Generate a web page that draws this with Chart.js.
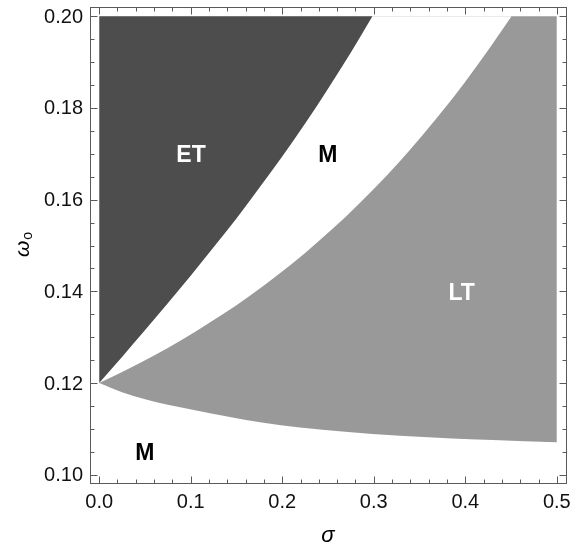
<!DOCTYPE html>
<html><head><meta charset="utf-8">
<script src="https://cdn.jsdelivr.net/npm/chart.js@4/dist/chart.umd.min.js"></script>
<style>html,body{margin:0;padding:0;background:#fff;}#wrap{width:573px;height:553px;}</style>
</head><body><div id="wrap"><canvas id="c" width="573" height="553"></canvas></div>
<script>
// ET / M boundary (sigma, omega_o)
const etSigma = [0, 0.025, 0.050, 0.075, 0.100, 0.125, 0.150, 0.175, 0.200, 0.225, 0.250, 0.275, 0.2986];
const etOmega = [0.1200, 0.1257, 0.1315, 0.1374, 0.1434, 0.1496, 0.1559, 0.1626, 0.1694, 0.1766, 0.1842, 0.1921, 0.2000];
// M / LT upper boundary
const ltUpSigma = [0, 0.030, 0.060, 0.090, 0.120, 0.150, 0.180, 0.210, 0.240, 0.270, 0.300, 0.330, 0.360, 0.390, 0.420, 0.4505];
const ltUpOmega = [0.1200, 0.1229, 0.1260, 0.1294, 0.1331, 0.1370, 0.1413, 0.1459, 0.1510, 0.1564, 0.1623, 0.1687, 0.1757, 0.1831, 0.1912, 0.2000];
// M / LT lower boundary
const ltLowSigma = [0, 0.025, 0.0502, 0.075, 0.1048, 0.140, 0.1776, 0.2194, 0.2686, 0.3286, 0.380, 0.430, 0.500];
const ltLowOmega = [0.1200, 0.1180, 0.1165, 0.1153, 0.1141, 0.1127, 0.1114, 0.1103, 0.1094, 0.1085, 0.1080, 0.1076, 0.1071];
// region upper limit
const omegaMax = 0.2;
// axis ticks
const xMajorTicks = [0, 0.1, 0.2, 0.3, 0.4, 0.5];
const xTickLabels = ['0.0', '0.1', '0.2', '0.3', '0.4', '0.5'];
const xMinorTicks = [0.02,0.04,0.06,0.08,0.12,0.14,0.16,0.18,0.22,0.24,0.26,0.28,0.32,0.34,0.36,0.38,0.42,0.44,0.46,0.48];
const yMajorTicks = [0.10, 0.12, 0.14, 0.16, 0.18, 0.20];
const yTickLabels = ['0.10', '0.12', '0.14', '0.16', '0.18', '0.20'];
const yMinorTicks = [0.105,0.11,0.115,0.125,0.13,0.135,0.145,0.15,0.155,0.165,0.17,0.175,0.185,0.19,0.195];
// region labels
const regionLabels = ['ET', 'M', 'LT', 'M'];
const labelSigma = [0.1004, 0.2498, 0.396, 0.0499];
const labelOmega = [0.1698, 0.1698, 0.1397, 0.1049];
const labelColors = ['#ffffff', '#000000', '#ffffff', '#000000'];

const pts = (xs, ys) => xs.map((v, i) => ({x: v, y: ys[i]}));

const FONT = "'Liberation Sans', Arial, Helvetica, sans-serif";
const frameColor = '#5a5a5a';

const decor = {
  id: 'decor',
  afterDraw(chart) {
    const {ctx, chartArea: a, scales: {x, y}} = chart;
    const L = a.left + 0.5, R = a.right + 0.5, T = a.top + 0.5, B = a.bottom - 0.5;
    ctx.save();
    ctx.strokeStyle = frameColor; ctx.lineWidth = 1;
    ctx.strokeRect(L, T, R - L, B - T);
    ctx.beginPath();
    const xt = (v, len) => { const p = Math.round(x.getPixelForValue(v)) + 0.5; ctx.moveTo(p, B); ctx.lineTo(p, B - len); ctx.moveTo(p, T); ctx.lineTo(p, T + len); };
    const yt = (v, len) => { const p = Math.round(y.getPixelForValue(v)) + 0.5; ctx.moveTo(L, p); ctx.lineTo(L + len, p); ctx.moveTo(R, p); ctx.lineTo(R - len, p); };
    xMajorTicks.forEach(v => xt(v, 7)); xMinorTicks.forEach(v => xt(v, 4));
    yMajorTicks.forEach(v => yt(v, 7)); yMinorTicks.forEach(v => yt(v, 4));
    ctx.stroke();
    // region labels
    ctx.font = 'bold 23px ' + FONT; ctx.textAlign = 'center'; ctx.textBaseline = 'middle';
    regionLabels.forEach((t, i) => { ctx.fillStyle = labelColors[i]; ctx.fillText(t, x.getPixelForValue(labelSigma[i]), y.getPixelForValue(labelOmega[i]) + 1); });
    // axis titles
    ctx.fillStyle = '#000';
    ctx.font = 'italic 22px ' + FONT; ctx.textAlign = 'center'; ctx.textBaseline = 'alphabetic';
    ctx.fillText('σ', (a.left + a.right) / 2, 542);
    ctx.save();
    ctx.translate(28.5, 257); ctx.rotate(-Math.PI / 2);
    ctx.textAlign = 'left';
    ctx.font = 'italic 21px ' + FONT;
    ctx.fillText('ω', 0, 0);
    const w = ctx.measureText('ω').width;
    ctx.font = '14px ' + FONT;
    ctx.fillText('o', w + 1, 3);
    ctx.restore();
    ctx.restore();
  }
};

const curve = (data, color, order) => ({
  data, showLine: true, fill: {value: omegaMax}, cubicInterpolationMode: 'monotone',
  backgroundColor: color, borderColor: 'rgba(0,0,0,0)', borderWidth: 0, pointRadius: 0, order
});

const zeroPad = s => { s.paddingTop = 0; s.paddingBottom = 0; s.paddingLeft = 0; s.paddingRight = 0; };

new Chart(document.getElementById('c'), {
  type: 'scatter',
  data: {
    datasets: [
      Object.assign(curve(pts(ltLowSigma, ltLowOmega), '#999999', 3), {label: 'LT'}),
      Object.assign(curve(pts(ltUpSigma, ltUpOmega), '#ffffff', 2), {label: 'M'}),
      Object.assign(curve(pts(etSigma, etOmega), '#4d4d4d', 1), {label: 'ET'})
    ]
  },
  options: {
    responsive: false, animation: false, devicePixelRatio: 1,
    layout: {padding: {top: 7, right: 7, left: 0, bottom: 0}},
    plugins: {legend: {display: false}, tooltip: {enabled: false}},
    scales: {
      x: {
        type: 'linear', min: -0.01, max: 0.51,
        afterBuildTicks: s => { s.ticks = xMajorTicks.map(v => ({value: v})); },
        afterFit: s => { s.height = 69; zeroPad(s); },
        grid: {display: false, drawTicks: false}, border: {display: false},
        ticks: {autoSkip: false, maxRotation: 0, padding: 6, color: '#111', font: {family: FONT, size: 20},
          callback: (v, i) => xTickLabels[i]}
      },
      y: {
        type: 'linear', min: 0.098, max: 0.202,
        afterBuildTicks: s => { s.ticks = yMajorTicks.map(v => ({value: v})); },
        afterFit: s => { s.width = 90; zeroPad(s); },
        grid: {display: false, drawTicks: false}, border: {display: false},
        ticks: {autoSkip: false, padding: 7, labelOffset: 1, color: '#111', font: {family: FONT, size: 20},
          callback: (v, i) => yTickLabels[i]}
      }
    }
  },
  plugins: [decor]
});
</script></body></html>
